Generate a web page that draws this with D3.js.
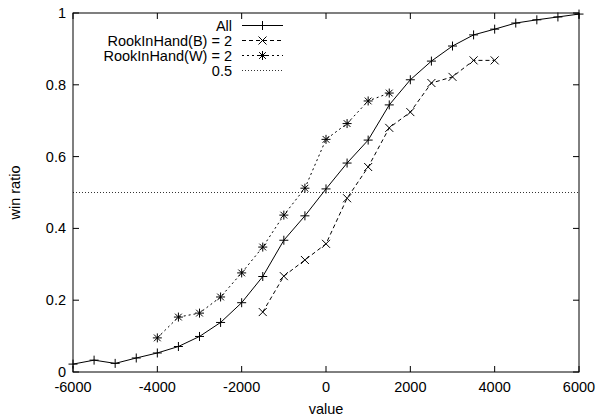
<!DOCTYPE html>
<html>
<head>
<meta charset="utf-8">
<script src="https://cdn.jsdelivr.net/npm/d3@7"></script>
<style>
  body { margin: 0; background: #fff; }
  text { font-family: "Liberation Sans", Arial, sans-serif; font-size: 14.5px; fill: #000; }
</style>
</head>
<body>
<div id="chart"></div>
<script>
// values
const allX = [-6000, -5500, -5000, -4500, -4000, -3500, -3000, -2500, -2000, -1500, -1000, -500,
              0, 500, 1000, 1500, 2000, 2500, 3000, 3500, 4000, 4500, 5000, 5500, 6000];
const allY = [0.022, 0.033, 0.024, 0.039, 0.053, 0.071, 0.099, 0.138, 0.193, 0.266, 0.367, 0.435,
              0.510, 0.582, 0.646, 0.744, 0.814, 0.866, 0.908, 0.939, 0.955, 0.972, 0.981, 0.989, 0.997];

const bX = [-1500, -1000, -500, 0, 500, 1000, 1500, 2000, 2500, 3000, 3500, 4000];
const bY = [0.167, 0.267, 0.312, 0.357, 0.484, 0.571, 0.680, 0.724, 0.805, 0.822, 0.868, 0.868];

const wX = [-4000, -3500, -3000, -2500, -2000, -1500, -1000, -500, 0, 500, 1000, 1500];
const wY = [0.095, 0.153, 0.164, 0.209, 0.276, 0.348, 0.437, 0.512, 0.648, 0.692, 0.755, 0.777];

const refLevel = 0.5;
const xTicks = [-6000, -4000, -2000, 0, 2000, 4000, 6000];
const yTicks = [0, 0.2, 0.4, 0.6, 0.8, 1];
const legendLabels = ["All", "RookInHand(B) = 2", "RookInHand(W) = 2", "0.5"];

const width = 604, height = 418;
const margin = {left: 73, right: 25, top: 13, bottom: 46};

const x = d3.scaleLinear().domain([-6000, 6000]).range([margin.left, width - margin.right]);
const y = d3.scaleLinear().domain([0, 1]).range([height - margin.bottom, margin.top]);

const svg = d3.select("#chart").append("svg")
    .attr("width", width)
    .attr("height", height);

// frame
svg.append("rect")
    .attr("x", x(-6000)).attr("y", y(1))
    .attr("width", x(6000) - x(-6000)).attr("height", y(0) - y(1))
    .attr("fill", "none").attr("stroke", "#000").attr("stroke-width", 1);

// inward ticks on all sides
const tl = 6;
const tickG = svg.append("g").attr("stroke", "#000").attr("stroke-width", 1);
xTicks.forEach(v => {
    tickG.append("line").attr("x1", x(v)).attr("x2", x(v)).attr("y1", y(0)).attr("y2", y(0) - tl);
    tickG.append("line").attr("x1", x(v)).attr("x2", x(v)).attr("y1", y(1)).attr("y2", y(1) + tl);
});
yTicks.forEach(v => {
    tickG.append("line").attr("x1", x(-6000)).attr("x2", x(-6000) + tl).attr("y1", y(v)).attr("y2", y(v));
    tickG.append("line").attr("x1", x(6000)).attr("x2", x(6000) - tl).attr("y1", y(v)).attr("y2", y(v));
});

svg.append("g").selectAll("text")
    .data(xTicks).enter().append("text")
    .attr("x", d => x(d))
    .attr("y", y(0) + 15)
    .attr("dy", "0.35em")
    .attr("text-anchor", "middle")
    .text(d => d);

svg.append("g").selectAll("text")
    .data(yTicks).enter().append("text")
    .attr("x", x(-6000) - 7)
    .attr("y", d => y(d))
    .attr("dy", "0.35em")
    .attr("text-anchor", "end")
    .text(d => d);

svg.append("text")
    .attr("x", x(0)).attr("y", 409).attr("dy", "0.35em")
    .attr("text-anchor", "middle")
    .text("value");

svg.append("text")
    .attr("transform", "translate(15," + y(0.5) + ") rotate(-90)")
    .attr("dy", "0.35em")
    .attr("text-anchor", "middle")
    .text("win ratio");

// markers
const plusPath = s => `M${-s},0H${s}M0,${-s}V${s}`;
const crossPath = s => `M${-s},${-s}L${s},${s}M${-s},${s}L${s},${-s}`;
const starPath = s => plusPath(s) + crossPath(s * 0.75);

const series = [
    {xs: allX, ys: allY, dash: null, marker: plusPath(4.5)},
    {xs: bX, ys: bY, dash: "4,3", marker: crossPath(4)},
    {xs: wX, ys: wY, dash: "2,3", marker: starPath(4.5)}
];

const line = d3.line().x(d => x(d[0])).y(d => y(d[1]));

series.forEach(s => {
    const pts = s.xs.map((v, i) => [v, s.ys[i]]);
    svg.append("path")
        .attr("d", line(pts))
        .attr("fill", "none")
        .attr("stroke", "#000")
        .attr("stroke-width", 1)
        .attr("stroke-dasharray", s.dash);
    svg.append("g").selectAll("path")
        .data(pts).enter().append("path")
        .attr("transform", d => `translate(${x(d[0])},${y(d[1])})`)
        .attr("d", s.marker)
        .attr("fill", "none")
        .attr("stroke", "#000")
        .attr("stroke-width", 1);
});

// 0.5 reference line
svg.append("line")
    .attr("x1", x(-6000)).attr("x2", x(6000))
    .attr("y1", y(refLevel)).attr("y2", y(refLevel))
    .attr("stroke", "#000").attr("stroke-width", 0.8)
    .attr("stroke-dasharray", "1,2");

// legend
const lg = svg.append("g");
const rowY = i => 25.5 + i * 15;
legendLabels.forEach((lab, i) => {
    lg.append("text")
        .attr("x", 232).attr("y", rowY(i)).attr("dy", "0.35em")
        .attr("text-anchor", "end")
        .text(lab);
    const dash = i === 0 ? null : i === 1 ? "4,3" : i === 2 ? "2,3" : "1,2";
    lg.append("line")
        .attr("x1", 242).attr("x2", 283)
        .attr("y1", rowY(i)).attr("y2", rowY(i))
        .attr("stroke", "#000").attr("stroke-width", i === 3 ? 0.8 : 1)
        .attr("stroke-dasharray", dash);
    if (i < 3) {
        lg.append("path")
            .attr("transform", `translate(262.5,${rowY(i)})`)
            .attr("d", series[i].marker)
            .attr("fill", "none").attr("stroke", "#000");
    }
});
</script>
</body>
</html>
